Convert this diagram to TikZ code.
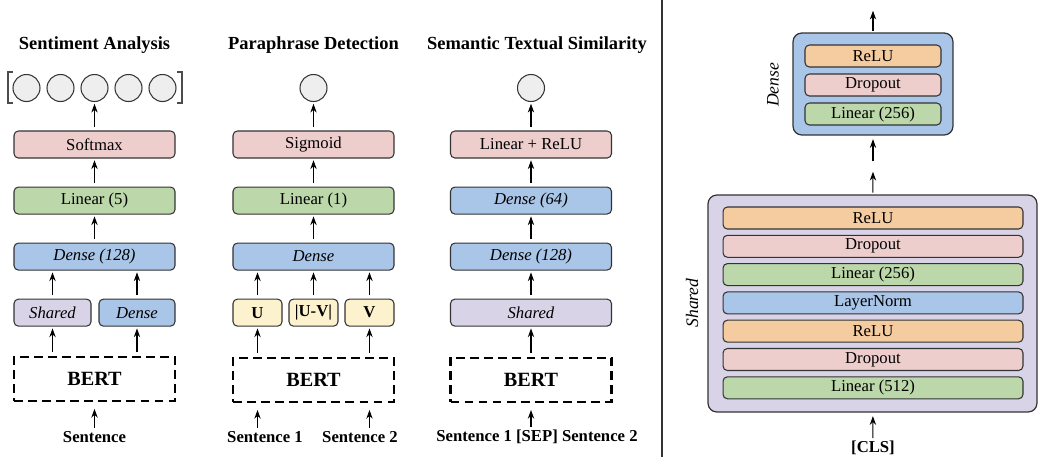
\documentclass[tikz,border=0pt]{standalone}
\usepackage{fontspec}
\setmainfont{Liberation Serif}
\usetikzlibrary{
  calc,
  arrows.meta,
  positioning}

\definecolor{softred}{HTML}{EECDCD}
\definecolor{softgreen}{HTML}{BCD8AA}
\definecolor{softblue}{HTML}{A9C5E7}
\definecolor{softpurple}{HTML}{D9D3E8}
\definecolor{softyellow}{HTML}{FDF2CE}
\definecolor{softorange}{HTML}{F4CC9F}
\definecolor{outgray}{HTML}{EEEEEE}

\begin{document}
\begin{tikzpicture}[x=0.02cm,y=-0.02cm,node distance=0.56cm]
  \tikzset{layer/.style={draw=black!80,
                         line width=0.6pt,
                         rounded corners=2.5pt,
                         minimum height=0.54cm,
                         inner sep=0pt,
                         font=\fontsize{9.5}{11}\selectfont},
           widelayer/.style={layer, minimum width=3.22cm},
           bertbox/.style={draw=black, line width=1.3pt, dash pattern=on 5pt off 3pt,
                           minimum width=3.22cm, minimum height=0.88cm, inner sep=0pt,
                           font=\fontsize{11.5}{13}\selectfont\bfseries},
           outnode/.style={draw=black!80, line width=0.6pt, circle, fill=outgray,
                           minimum size=0.54cm, inner sep=0pt},
           title/.style={font=\fontsize{10.5}{12}\selectfont\bfseries},
           inputtext/.style={inner sep=1.5pt, font=\fontsize{9.5}{11}\selectfont\bfseries},
           flow/.style={-{Stealth[length=5pt,width=3.6pt]}, line width=0.6pt,
                        shorten >=1pt, shorten <=2pt},
           block/.style={draw=black!80, line width=0.7pt, rounded corners=5pt, inner sep=0pt},
           sublayer/.style={layer, minimum height=0.44cm},
           sidelabel/.style={rotate=90, font=\fontsize{10}{12}\selectfont\itshape}
  }

  \useasboundingbox (0,0) rectangle (1039,457);

%%%%%%%%%%%%%%%%%%%%%%%%%%%%%%%%%%%%%%%%%%%%%%%%%%%%%%%%%%%%%%%%%%%%%%%%%%%%%%
%% Sentiment Analysis

\node[title] (SAtitle) at (94.5,45) {Sentiment Analysis};

\foreach \i in {1,...,5}
  \node[outnode] (SAo\i) at ({94.5+(\i-3)*34},88) {};

\draw[line width=0.6pt, black!70] (13,72) -- (8,72) -- (8,103) -- (13,103);
\draw[line width=0.6pt, black!70] (177,72) -- (182,72) -- (182,103) -- (177,103);

\node[widelayer, fill=softred] (SAsm) at (94.5,144.5) {Softmax};

\node[widelayer, fill=softgreen, below=of SAsm] (SAlin) {Linear (5)};

\node[widelayer, fill=softblue, below=of SAlin] (SAdense) {\textit{Dense (128)}};

\node[layer, fill=softpurple, minimum width=1.54cm, below=of SAdense.south west, anchor=north west] (SAsh) {\textit{Shared}};

\node[layer, fill=softblue, minimum width=1.52cm, below=of SAdense.south east, anchor=north east] (SAde) {\textit{Dense}};

\node[bertbox, below=1.7cm of SAdense] (SAbert) {BERT};

\node[inputtext] (SAin) at (94.5,437) {Sentence};

%%%%%%%%%%%%%%%%%%%%%%%%%%%%%%%%%%%%%%%%%%%%%%%%%%%%%%%%%%%%%%%%%%%%%%%%%%%%%%
%% Paraphrase Detection

\node[title] (PDtitle) at (313.5,45) {Paraphrase Detection};

\node[outnode] (PDo) at (313.5,88) {};

\node[widelayer, fill=softred] (PDsig) at (313.5,144.5) {Sigmoid};

\node[widelayer, fill=softgreen, below=of PDsig] (PDlin) {Linear (1)};

\node[widelayer, fill=softblue, below=of PDlin] (PDdense) {\textit{Dense}};

\node[layer, fill=softyellow, minimum width=0.98cm, font=\fontsize{9.5}{11}\selectfont\bfseries, below=of PDdense.south west, anchor=north west] (PDu) {U};

\node[layer, fill=softyellow, minimum width=0.98cm, font=\fontsize{9.5}{11}\selectfont\bfseries, below=of PDdense] (PDuv) {|U-V|};

\node[layer, fill=softyellow, minimum width=0.98cm, font=\fontsize{9.5}{11}\selectfont\bfseries, below=of PDdense.south east, anchor=north east] (PDv) {V};

\node[bertbox, below=0.6cm of PDuv] (PDbert) {BERT};

\node[inputtext] (PDs1) at (265,437) {Sentence 1};
\node[inputtext] (PDs2) at (360,437) {Sentence 2};

%%%%%%%%%%%%%%%%%%%%%%%%%%%%%%%%%%%%%%%%%%%%%%%%%%%%%%%%%%%%%%%%%%%%%%%%%%%%%%
%% Semantic Textual Similarity

\node[title] (STStitle) at (537,45) {Semantic Textual Similarity};

\node[outnode] (STSo) at (531,88) {};

\node[widelayer, fill=softred] (STSrelu) at (531,144.5) {Linear + ReLU};

\node[widelayer, fill=softblue, below=of STSrelu] (STSd64) {\textit{Dense (64)}};

\node[widelayer, fill=softblue, below=of STSd64] (STSd128) {\textit{Dense (128)}};

\node[widelayer, fill=softpurple, below=of STSd128] (STSsh) {\textit{Shared}};

\node[bertbox, below=0.6cm of STSsh] (STSbert) {BERT};

\node[inputtext] (STSin) at (537,437) {Sentence 1 [SEP] Sentence 2};

%%%%%%%%%%%%%%%%%%%%%%%%%%%%%%%%%%%%%%%%%%%%%%%%%%%%%%%%%%%%%%%%%%%%%%%%%%%%%%
%% separator

\draw[line width=0.6pt, black!80] (662,0) -- (662,457);

%%%%%%%%%%%%%%%%%%%%%%%%%%%%%%%%%%%%%%%%%%%%%%%%%%%%%%%%%%%%%%%%%%%%%%%%%%%%%%
%% Dense / Shared blocks

\node[block, fill=softblue, minimum width=3.2cm, minimum height=2.04cm] (DNblock) at (873,84) {};

\foreach \lbl/\col [count=\i] in {ReLU/softorange, Dropout/softred, Linear (256)/softgreen}
  \node[sublayer, fill=\col, minimum width=2.72cm] (DN\i) at (873,{56+(\i-1)*29}) {\lbl};

\node[sidelabel] (DNlabel) at (773,85) {Dense};

\node[block, fill=softpurple, minimum width=6.58cm, minimum height=4.34cm] (SHblock) at (872.5,303.5) {};

\foreach \lbl/\col [count=\i] in {ReLU/softorange, Dropout/softred, Linear (256)/softgreen,
                                  LayerNorm/softblue, ReLU/softorange, Dropout/softred,
                                  Linear (512)/softgreen}
  \node[sublayer, fill=\col, minimum width=6cm] (SH\i) at (873,{218+(\i-1)*28.3}) {\lbl};

\node[sidelabel] (SHlabel) at (692,303) {Shared};

\node[inputtext] (CLS) at (873,448) {[CLS]};

\coordinate (DNout) at (873,9);
\coordinate (gapA) at (873,161);
\coordinate (gapB) at (873,170);

%%%%%%%%%%%%%%%%%%%%%%%%%%%%%%%%%%%%%%%%%%%%%%%%%%%%%%%%%%%%%%%%%%%%%%%%%%%%%%
\draw[flow] (SAsm) -- (SAo3);
\draw[flow] (SAlin) -- (SAsm);
\draw[flow] (SAdense) -- (SAlin);
\draw[flow] (SAsh.north) -- (SAsh.north |- SAdense.south);
\draw[flow] (SAde.north) -- (SAde.north |- SAdense.south);
\draw[flow] (SAbert.north -| SAsh) -- (SAsh.south);
\draw[flow] (SAbert.north -| SAde) -- (SAde.south);
\draw[flow, shorten <=0pt, shorten >=4pt] (SAin) -- (SAbert);

\draw[flow] (PDsig) -- (PDo);
\draw[flow] (PDlin) -- (PDsig);
\draw[flow] (PDdense) -- (PDlin);
\draw[flow] (PDu.north) -- (PDu.north |- PDdense.south);
\draw[flow] (PDuv) -- (PDdense);
\draw[flow] (PDv.north) -- (PDv.north |- PDdense.south);
\draw[flow] (PDbert.north -| PDu) -- (PDu.south);
\draw[flow] (PDbert.north -| PDv) -- (PDv.south);
\draw[flow, shorten <=0pt, shorten >=4pt] (PDs1.north -| PDu) -- (PDbert.south -| PDu);
\draw[flow, shorten <=0pt, shorten >=4pt] (PDs2.north -| PDv) -- (PDbert.south -| PDv);

\draw[flow] (STSrelu) -- (STSo);
\draw[flow] (STSd64) -- (STSrelu);
\draw[flow] (STSd128) -- (STSd64);
\draw[flow] (STSsh) -- (STSd128);
\draw[flow] (STSbert) -- (STSsh);
\draw[flow, shorten <=0pt, shorten >=4pt] (STSin.north -| STSbert) -- (STSbert.south);

\draw[flow, shorten <=1pt] (DNblock) -- (DNout);
\draw[flow, shorten <=0pt, shorten >=2pt] (gapA) -- (DNblock);
\draw[flow, shorten <=1pt] (SHblock) -- (gapB);
\draw[flow, shorten <=0pt, shorten >=2pt] (CLS) -- (SHblock);
%%%%%%%%%%%%%%%%%%%%%%%%%%%%%%%%%%%%%%%%%%%%%%%%%%%%%%%%%%%%%%%%%%%%%%%%%%%%%%

\end{tikzpicture}
\end{document}
